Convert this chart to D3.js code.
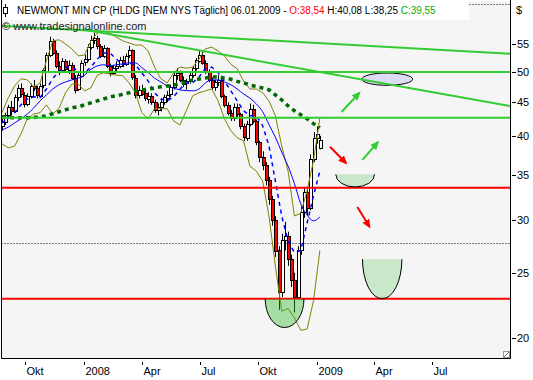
<!DOCTYPE html>
<html lang="de">
<head>
<meta charset="utf-8">
<title>NEM daily</title>
<script src="https://cdn.jsdelivr.net/npm/d3@7"></script>
<style>
  body { margin: 0; background: #fff; }
  svg text { font-family: "Liberation Sans", Arial, sans-serif; font-size: 11px; fill: #000; }
</style>
</head>
<body>
<div id="chart"></div>
<script>
// bars: one every 5 calendar days, the last one is 06.01.2009
var firstBar = "2007-08-20", stepDays = 5

var opens = [40.6,41.4,42.0,43.0,44.2,43.6,45.8,47.2,46.2,44.8,
  46.0,47.6,47.2,46.0,47.6,50.2,53.0,55.6,53.4,51.0,
  50.2,51.8,50.4,51.2,49.0,47.0,49.4,51.6,52.2,54.4,
  55.8,56.2,54.6,52.8,54.2,51.0,49.8,50.6,51.0,52.0,
  51.4,52.8,53.8,49.0,46.2,47.0,46.4,45.6,46.0,45.0,
  43.8,44.2,45.0,45.8,46.2,47.4,49.4,49.8,48.6,48.0,
  48.4,49.4,50.6,52.0,53.0,51.6,50.0,48.6,47.4,48.2,
  48.6,46.0,44.6,43.4,42.6,44.2,43.2,41.4,39.8,41.8,
  44.0,42.2,39.2,37.2,36.2,34.4,32.2,30.0,27.0,23.4,
  28.0,28.4,26.2,24.4,23.0,27.0,30.8,33.0,31.2,37.0,
  39.8,38.54]
var highs = [42.0,42.6,43.4,44.6,45.2,46.2,47.8,48.0,46.6,46.4,
  48.0,48.6,47.6,48.0,50.6,53.4,56.4,56.0,53.8,51.8,
  52.4,52.2,52.0,51.6,49.4,49.8,52.0,53.0,55.0,56.6,
  57.2,56.6,55.0,54.8,54.4,51.4,51.2,51.8,52.6,52.8,
  53.2,54.6,54.0,49.4,47.6,47.8,46.8,46.6,46.4,45.4,
  44.8,45.6,46.2,46.8,47.8,49.8,50.6,50.2,49.2,48.8,
  49.8,51.0,52.4,53.8,53.6,52.0,50.4,49.0,48.6,49.4,
  48.8,46.2,45.0,43.8,44.8,44.8,43.4,41.8,42.2,44.8,
  44.6,42.4,39.4,38.0,36.6,34.8,32.6,30.4,27.4,28.6,
  29.8,28.8,26.6,25.0,27.4,31.4,33.6,33.4,37.6,40.6,
  41.4,40.08]
var lows = [40.0,40.8,41.6,42.5,43.0,43.4,45.2,45.8,44.2,44.4,
  45.6,46.8,45.6,45.8,47.2,50.0,52.6,53.0,50.6,49.4,
  49.8,49.8,49.6,48.6,46.4,46.8,49.0,51.0,51.8,54.0,
  55.0,54.0,52.4,52.4,50.6,49.2,49.4,50.0,50.6,50.8,
  51.0,52.4,48.6,45.6,45.6,46.0,45.2,44.8,44.6,43.4,
  43.0,43.6,44.6,45.0,45.8,47.0,48.6,48.2,47.4,47.0,
  48.0,49.0,50.2,51.6,51.2,49.6,48.2,47.0,46.8,47.6,
  45.6,44.2,43.0,42.2,42.2,42.8,41.0,39.4,39.4,41.4,
  41.8,38.8,36.6,35.6,33.8,31.6,29.4,26.4,22.0,23.0,
  27.0,25.6,23.8,21.8,22.8,26.6,30.2,30.4,31.0,36.6,
  39.0,38.25]
var closes = [41.4,42.0,43.0,44.2,43.6,45.8,47.2,46.2,44.8,46.0,
  47.6,47.2,46.0,47.6,50.2,53.0,55.6,53.4,51.0,50.2,
  51.8,50.4,51.2,49.0,47.0,49.4,51.6,52.2,54.4,55.8,
  56.2,54.6,52.8,54.2,51.0,49.8,50.6,51.0,52.0,51.4,
  52.8,53.8,49.0,46.2,47.0,46.4,45.6,46.0,45.0,43.8,
  44.2,45.0,45.8,46.2,47.4,49.4,49.8,48.6,48.0,48.4,
  49.4,50.6,52.0,53.0,51.6,50.0,48.6,47.4,48.2,48.6,
  46.0,44.6,43.4,42.6,44.2,43.2,41.4,39.8,41.8,44.0,
  42.2,39.2,37.2,36.2,34.4,32.2,30.0,27.0,23.4,28.0,
  28.4,26.2,24.4,23.0,27.0,30.8,33.0,31.2,37.0,39.8,
  40.4,39.55]

// indicators, one value at every 2nd bar (bars 1,3,5,...,101)
var bbUpper = [43.4,45.7,47.6,48.8,48.6,47.4,48.1,51.9,55.6,55.8,
  55.0,54.1,52.8,52.95,55.6,57.1,57.5,57.1,56.3,55.6,
  55.2,54.8,54.8,53.7,50.8,48.8,48.1,49.8,50.8,50.6,
  50.8,52.2,54.1,54.4,53.7,52.8,51.3,50.5,48.4,47.1,
  47.1,46.5,45.2,42.95,38.7,35.5,30.4,30.7,33.2,36.8,
  42.65]
var bbMid = [41.9,42.5,43.4,44.6,45.5,45.85,45.7,47.1,48.8,50.1,
  50.8,50.8,50.1,49.8,50.8,52.2,53.3,53.3,52.2,51.2,
  51.5,51.2,49.8,48.4,46.5,45.5,45.2,45.85,47.1,48.1,
  48.1,49.1,50.5,50.8,49.8,48.4,46.8,45.2,43.7,42.95,
  42.95,41.5,38.7,34.3,30.4,27.9,26.8,27.0,29.7,32.6,
  35.5]
var bbLower = [39.0,38.45,38.7,40.35,42.5,43.2,43.4,44.6,43.2,44.1,
  46.5,47.9,47.9,46.8,47.3,49.4,49.8,49.6,49.4,49.3,
  48.1,46.5,43.4,42.5,44.0,44.0,44.0,42.2,41.6,43.7,
  46.0,46.5,46.8,47.1,45.2,42.5,40.8,39.8,39.4,36.1,
  35.5,34.3,30.4,25.6,21.9,22.1,21.4,20.5,20.6,22.7,
  27.0]
var ma50 = [40.9,41.3,41.9,42.5,43.2,44.1,45.2,46.15,47.1,47.8,
  48.25,48.6,48.9,49.4,50.4,51.0,51.2,51.0,51.2,51.35,
  51.55,51.55,50.7,49.85,48.9,48.25,47.6,47.25,46.95,46.85,
  46.8,47.1,48.1,48.6,48.6,48.25,47.8,47.1,46.3,45.65,
  44.75,43.55,41.65,39.9,37.9,36.1,34.0,31.7,30.5,29.9,
  30.3]
var ma200 = [42.8,42.7,42.65,42.65,42.65,42.7,42.8,42.95,43.25,43.55,
  43.85,44.15,44.3,44.6,44.9,45.2,45.5,45.85,46.0,46.25,
  46.5,46.8,46.95,47.1,47.25,47.45,47.6,47.75,48.0,48.25,
  48.6,48.75,48.9,49.1,49.1,48.9,48.7,48.35,48.1,47.75,
  47.5,47.25,46.95,46.15,45.35,44.45,43.7,43.1,42.5,41.8,
  41.2]

// drawn levels and annotations (dates / prices)
var greenLevels = [49.94, 42.66]
var redLevels = [33.52, 22.86]
var dottedLevel = 27.67
var trendStart = ["2007-08-22", "2007-12-31"]
var trendStartPrice = [58.6, 57.8]
var trendEnd = ["2009-11-01", "2009-11-01"]
var trendEndPrice = [53.2, 44.4]
var arrowFrom = ["2009-01-22", "2009-02-09", "2009-03-14", "2009-03-06"]
var arrowFromPrice = [38.6, 43.5, 36.9, 31.35]
var arrowTo = ["2009-02-16", "2009-03-09", "2009-04-07", "2009-03-25"]
var arrowToPrice = [36.5, 46.45, 39.2, 29.3]
var arrowUp = [false, true, true, false]
var bowlFrom = ["2009-01-31", "2009-03-14", "2008-10-12"]
var bowlTo = ["2009-04-02", "2009-05-15", "2008-12-12"]
var bowlTop = [35.1, 26.2, 22.86]
var bowlBottom = [33.6, 22.86, 20.7]
var ovalDates = ["2009-03-13", "2009-06-01"]
var ovalPrices = [47.7, 49.77]

var xTickDates = ["2007-10-01","2008-01-01","2008-04-01","2008-07-01","2008-10-01","2009-01-01","2009-04-01","2009-07-01"]
var xTickLabels = ["Okt","2008","Apr","Jul","Okt","2009","Apr","Jul"]
var yTicks = [20,25,30,35,40,45,50,55]

var parse = d3.timeParse("%Y-%m-%d")
var W = 533, H = 380
var pLeft = 1.5, pRight = 510.5, pTop = 1, pBottom = 358.5

var x = d3.scaleTime().domain([parse("2007-08-22"), parse("2009-11-01")]).range([0, 510])
var y = d3.scaleLog().domain([20, 55]).range([337.5, 44])

var bars = closes.map(function(c, i){
  return {date: d3.timeDay.offset(parse(firstBar), i*stepDays), o: opens[i], h: highs[i], l: lows[i], c: c}
})
var indDates = bbMid.map(function(v, k){ return bars[2*k+1].date })

var svg = d3.select("#chart").append("svg").attr("width", W).attr("height", H)
svg.append("rect").attr("width", W).attr("height", H).attr("fill", "#fff")

var defs = svg.append("defs")
defs.append("clipPath").attr("id", "clip")
  .append("rect").attr("x", pLeft).attr("y", pTop).attr("width", pRight-pLeft).attr("height", pBottom-pTop)

svg.append("rect").attr("x", pLeft).attr("y", pTop).attr("width", pRight-pLeft).attr("height", pBottom-pTop)
  .attr("fill", "#f5f5f5")

var g = svg.append("g").attr("clip-path", "url(#clip)")

// dotted level behind everything
g.append("line").attr("x1", pLeft).attr("x2", pRight)
  .attr("y1", Math.round(y(dottedLevel))+0.5).attr("y2", Math.round(y(dottedLevel))+0.5)
  .attr("stroke", "#000").attr("stroke-dasharray", "1,2")

// candles
var cx = function(d){ return Math.round(x(d.date)) }
g.selectAll(".wick").data(bars).enter().append("line")
  .attr("x1", function(d){ return cx(d)+0.5 }).attr("x2", function(d){ return cx(d)+0.5 })
  .attr("y1", function(d){ return y(d.h) }).attr("y2", function(d){ return y(d.l) })
  .attr("stroke", "#000")
g.selectAll(".body").data(bars).enter().append("rect")
  .attr("x", function(d){ return cx(d)-1 })
  .attr("y", function(d){ return Math.round(y(Math.max(d.o, d.c)))+0.5 })
  .attr("width", 3)
  .attr("height", function(d){ return Math.max(1, Math.round(y(Math.min(d.o, d.c)) - y(Math.max(d.o, d.c)))) })
  .attr("fill", function(d){ return d.c < d.o ? "#ff0000" : "#fff" })
  .attr("stroke", "#000").attr("shape-rendering", "crispEdges")

function series(vals){ return vals.map(function(v, k){ return {date: indDates[k], v: v} }) }
var line = d3.line().x(function(d){ return x(d.date) }).y(function(d){ return y(d.v) })
var smooth = d3.line().curve(d3.curveMonotoneX).x(function(d){ return x(d.date) }).y(function(d){ return y(d.v) })

g.append("path").datum(series(bbUpper)).attr("d", line).attr("fill", "none").attr("stroke", "#808000")
g.append("path").datum(series(bbLower)).attr("d", line).attr("fill", "none").attr("stroke", "#808000")
g.append("path").datum(series(ma50)).attr("d", smooth).attr("fill", "none").attr("stroke", "#0000ff")
g.append("path").datum(series(bbMid)).attr("d", line).attr("fill", "none").attr("stroke", "#0000ff")
  .attr("stroke-width", 1.5).attr("stroke-dasharray", "4,4")
g.append("path").datum(series(ma200)).attr("d", smooth).attr("fill", "none").attr("stroke", "#006a00")
  .attr("stroke-width", 3.5).attr("stroke-dasharray", "4,4")

// oval
var ox0 = x(parse(ovalDates[0])), ox1 = x(parse(ovalDates[1]))
g.append("ellipse").attr("cx", (ox0+ox1)/2).attr("cy", (y(ovalPrices[0])+y(ovalPrices[1]))/2)
  .attr("rx", (ox1-ox0)/2).attr("ry", (y(ovalPrices[0])-y(ovalPrices[1]))/2)
  .attr("fill", "#dcdcf4").attr("stroke", "#000")

// horizontal levels
greenLevels.forEach(function(p){
  g.append("line").attr("x1", pLeft).attr("x2", pRight).attr("y1", y(p)).attr("y2", y(p))
    .attr("stroke", "#33cc33").attr("stroke-width", 2)
})
redLevels.forEach(function(p){
  g.append("line").attr("x1", pLeft).attr("x2", pRight).attr("y1", y(p)).attr("y2", y(p))
    .attr("stroke", "#ff0000").attr("stroke-width", 2)
})

// trend lines
trendStart.forEach(function(d, i){
  g.append("line")
    .attr("x1", x(parse(d))).attr("y1", y(trendStartPrice[i]))
    .attr("x2", x(parse(trendEnd[i]))).attr("y2", y(trendEndPrice[i]))
    .attr("stroke", "#33cc33").attr("stroke-width", 2)
})

// bowls
bowlFrom.forEach(function(d, i){
  var x0 = x(parse(d)), x1 = x(parse(bowlTo[i])), yt = y(bowlTop[i]), yb = y(bowlBottom[i])
  var arc = "M" + x0 + "," + yt + " A" + ((x1-x0)/2) + "," + (yb-yt) + " 0 0 0 " + x1 + "," + yt
  g.append("path").attr("d", arc + " Z").attr("fill", "#2db82d").attr("fill-opacity", i == 2 ? 0.4 : 0.22)
  g.append("path").attr("d", arc).attr("fill", "none").attr("stroke", "#000")
})

// arrows
;[["up", "#33cc33"], ["down", "#ff0000"]].forEach(function(m){
  defs.append("marker").attr("id", "head-" + m[0]).attr("markerUnits", "userSpaceOnUse")
    .attr("markerWidth", 9).attr("markerHeight", 8).attr("refX", 7).attr("refY", 4).attr("orient", "auto")
    .append("path").attr("d", "M0,0 L9,4 L0,8 Z").attr("fill", m[1])
})
arrowFrom.forEach(function(d, i){
  var x0 = x(parse(d)), y0 = y(arrowFromPrice[i]), x1 = x(parse(arrowTo[i])), y1 = y(arrowToPrice[i])
  g.append("line").attr("x1", x0).attr("y1", y0).attr("x2", x1).attr("y2", y1)
    .attr("stroke", arrowUp[i] ? "#33cc33" : "#ff0000").attr("stroke-width", 2)
    .attr("marker-end", "url(#head-" + (arrowUp[i] ? "up" : "down") + ")")
})

// frame
svg.append("line").attr("x1", pLeft).attr("x2", pLeft).attr("y1", 0).attr("y2", pBottom).attr("stroke", "#000")
svg.append("line").attr("x1", pRight).attr("x2", pRight).attr("y1", 0).attr("y2", pBottom).attr("stroke", "#000")
svg.append("line").attr("x1", pLeft).attr("x2", pRight).attr("y1", pBottom).attr("y2", pBottom).attr("stroke", "#000")
svg.append("line").attr("x1", pLeft).attr("x2", pRight).attr("y1", 4.5).attr("y2", 4.5)
  .attr("stroke", "#000").attr("stroke-dasharray", "1,2")

// resize grip
svg.append("rect").attr("x", 503.5).attr("y", 351.5).attr("width", 6).attr("height", 6)
  .attr("fill", "#fff").attr("stroke", "#999")
svg.append("line").attr("x1", 504).attr("y1", 357).attr("x2", 509).attr("y2", 352).attr("stroke", "#777")

// title
svg.append("rect").attr("x", 2).attr("y", 0).attr("width", 467).attr("height", 20).attr("fill", "#fff")
svg.append("line").attr("x1", 5.5).attr("x2", 5.5).attr("y1", 4).attr("y2", 17).attr("stroke", "#000")
svg.append("rect").attr("x", 3.5).attr("y", 7.5).attr("width", 4).attr("height", 6).attr("fill", "#fff").attr("stroke", "#000")
var title = svg.append("text").attr("transform", "translate(17,14) scale(0.92,1)").style("font-size", "10.8px")
title.append("tspan").text("NEWMONT MIN CP (HLDG [NEM NYS  Täglich] 06.01.2009 - ")
title.append("tspan").style("fill", "#ff0000").text("O:38,54")
title.append("tspan").text(" H:40,08 L:38,25 ")
title.append("tspan").style("fill", "#00b000").text("C:39,55")

svg.append("text").attr("x", 2).attr("y", 30).style("fill", "#222").text("© www.tradesignalonline.com")
svg.append("text").attr("x", 516).attr("y", 14).text("$")

// y axis
yTicks.forEach(function(t){
  var yy = Math.round(y(t)) + 0.5
  svg.append("line").attr("x1", 512).attr("x2", 516).attr("y1", yy).attr("y2", yy).attr("stroke", "#000")
  svg.append("text").attr("x", 517).attr("y", yy).attr("dy", "0.36em").text(t)
})

// x axis
xTickDates.forEach(function(d, i){
  var xx = Math.round(x(parse(d))) + 0.5
  svg.append("line").attr("x1", xx).attr("x2", xx).attr("y1", 362).attr("y2", 365).attr("stroke", "#000")
  svg.append("text").attr("x", xx + 1).attr("y", 375).text(xTickLabels[i])
})
</script>
</body>
</html>
